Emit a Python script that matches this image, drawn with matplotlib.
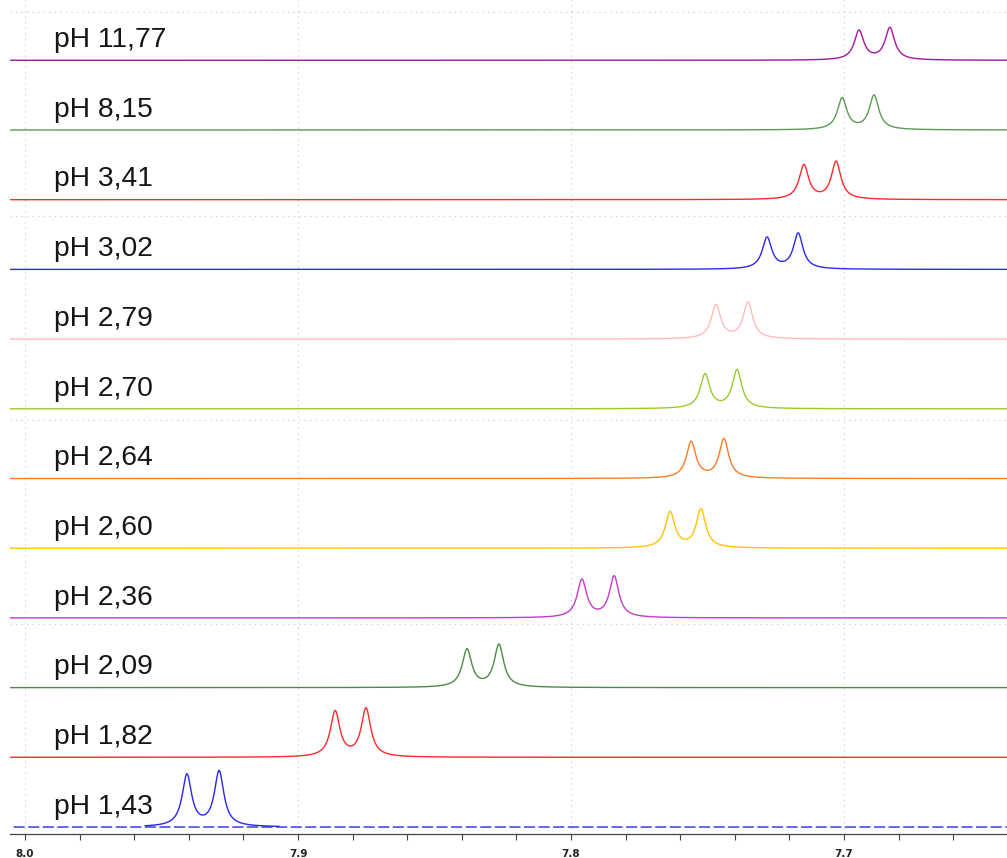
import numpy as np
import matplotlib.pyplot as plt
from matplotlib.ticker import MultipleLocator

# spectra listed bottom -> top
labels = ["pH 1,43", "pH 1,82", "pH 2,09", "pH 2,36", "pH 2,60", "pH 2,64",
          "pH 2,70", "pH 2,79", "pH 3,02", "pH 3,41", "pH 8,15", "pH 11,77"]
colors = ["#2727f0", "#ff2a2a", "#4a8c46", "#c63cc6", "#ffc400", "#ff7a2a",
          "#9acb2a", "#ffbcbc", "#2a2af5", "#ff2a2a", "#5c9c55", "#a3189e"]

# doublet positions (ppm) and intensities
peak_hi = [7.9407, 7.8864, 7.8381, 7.7960, 7.7637, 7.7560,
           7.7509, 7.7469, 7.7282, 7.7147, 7.7007, 7.6945]
peak_lo = [7.9289, 7.8751, 7.8264, 7.7842, 7.7524, 7.7440,
           7.7392, 7.7352, 7.7168, 7.7029, 7.6890, 7.6832]
int_hi = [0.74, 0.65, 0.54, 0.54, 0.51, 0.52, 0.49, 0.48, 0.45, 0.49, 0.45, 0.42]
int_lo = [0.79, 0.69, 0.61, 0.59, 0.55, 0.56, 0.55, 0.52, 0.51, 0.54, 0.49, 0.46]

HWHM = 0.0021  # line half width, ppm


def lorentz(x, x0, h):
    return h / (1 + ((x - x0) / HWHM) ** 2)


fig = plt.figure(figsize=(10.07, 8.58), dpi=100)
ax = fig.add_axes([10 / 1007, 1 - 834 / 858, 997 / 1007, 834 / 858])

ppm = np.linspace(8.02, 7.63, 6000)
for i, lab in enumerate(labels):
    y = i + lorentz(ppm, peak_hi[i], int_hi[i]) + lorentz(ppm, peak_lo[i], int_lo[i])
    if i == 0:
        # first trace: dashed baseline, solid only around the signal
        ax.plot(ppm, np.full_like(ppm, i), color=colors[i], lw=1.0,
                dashes=(8, 2.5))
        win = (ppm < 7.956) & (ppm > 7.907)
        ax.plot(ppm[win], y[win], color=colors[i], lw=1.0)
    else:
        ax.plot(ppm, y, color=colors[i], lw=1.0)
    ax.text(7.9893, i + 0.19, lab, fontsize=20.3, family="Liberation Sans",
            color="#151515", va="baseline", ha="left")

ax.set_xlim(8.0055, 7.6403)
ax.set_ylim(-0.10, 11.865)

ax.xaxis.set_major_locator(MultipleLocator(0.1))
ax.xaxis.set_minor_locator(MultipleLocator(0.02))
ax.xaxis.set_major_formatter(plt.FormatStrFormatter("%.1f"))
ax.tick_params(axis="x", which="both", direction="out", length=4, width=0.8,
               color="#444444", pad=7, labelsize=7.5, labelcolor="#222222")
for t in ax.get_xticklabels():
    t.set_fontweight("bold")

ax.set_yticks([2.91, 5.84, 8.77, 11.69])
ax.tick_params(axis="y", which="both", left=False, labelleft=False)
ax.grid(True, color="#c8c8c8", lw=0.8, dashes=(1, 4))

for s in ["top", "left", "right"]:
    ax.spines[s].set_visible(False)
ax.spines["bottom"].set_color("#444444")
ax.spines["bottom"].set_linewidth(0.9)

fig.savefig("out.png", dpi=100)
